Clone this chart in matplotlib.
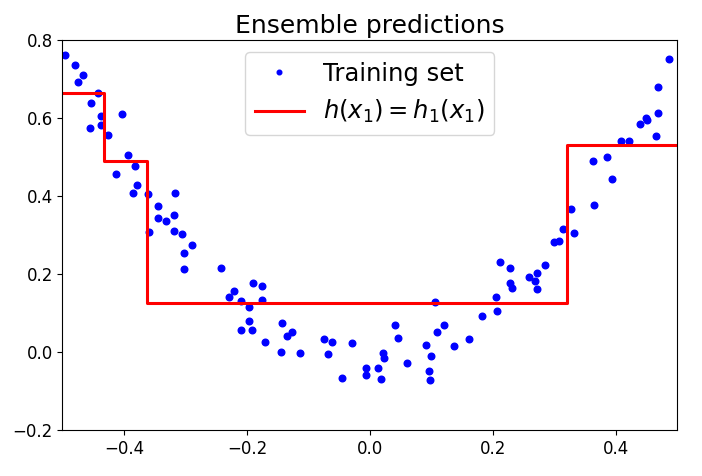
import numpy as np
import matplotlib
matplotlib.use('Agg')
import matplotlib.pyplot as plt

# training set
x_train = [-0.496, -0.480, -0.467, -0.474, -0.443, -0.454, -0.404, -0.438, -0.456, -0.437,
           -0.426, -0.393, -0.382, -0.413, -0.379, -0.386, -0.361, -0.317, -0.345, -0.345,
           -0.331, -0.318, -0.360, -0.319, -0.305, -0.289, -0.302, -0.302, -0.242, -0.190,
           -0.176, -0.221, -0.230, -0.210, -0.176, -0.197, -0.197, -0.210, -0.191, -0.143,
           -0.127, -0.135, -0.170, -0.145, -0.113, 0.106, 0.041, 0.046, 0.109, -0.074,
           -0.061, -0.030, -0.069, 0.021, 0.023, 0.091, 0.099, 0.060, -0.007, 0.013,
           -0.007, 0.096, -0.046, 0.018, 0.097, 0.121, 0.161, 0.136, 0.182, 0.205,
           0.207, 0.212, 0.228, 0.227, 0.231, 0.259, 0.272, 0.268, 0.271, 0.284,
           0.300, 0.307, 0.314, 0.331, 0.327, 0.364, 0.393, 0.362, 0.386, 0.408,
           0.421, 0.465, 0.439, 0.449, 0.450, 0.468, 0.468, 0.486]
y_train = [0.761, 0.736, 0.709, 0.691, 0.663, 0.638, 0.609, 0.604, 0.575, 0.581,
           0.556, 0.504, 0.477, 0.457, 0.429, 0.408, 0.404, 0.408, 0.374, 0.344,
           0.335, 0.351, 0.308, 0.309, 0.302, 0.274, 0.253, 0.212, 0.215, 0.176,
           0.170, 0.156, 0.140, 0.132, 0.133, 0.116, 0.080, 0.057, 0.057, 0.074,
           0.052, 0.040, 0.026, -0.001, -0.003, 0.128, 0.070, 0.035, 0.052, 0.033,
           0.026, 0.022, -0.006, -0.002, -0.016, 0.017, -0.011, -0.027, -0.042, -0.041,
           -0.059, -0.049, -0.066, -0.070, -0.072, 0.068, 0.034, 0.015, 0.092, 0.140,
           0.105, 0.231, 0.215, 0.176, 0.165, 0.192, 0.202, 0.182, 0.161, 0.224,
           0.283, 0.285, 0.315, 0.305, 0.366, 0.377, 0.444, 0.490, 0.499, 0.542,
           0.540, 0.555, 0.585, 0.601, 0.594, 0.613, 0.679, 0.752]

# tree prediction: split points and leaf values
splits = [-0.4325, -0.3626, 0.32]
leaf_values = [0.664, 0.49, 0.1256, 0.531]
axes_range = [-0.5, 0.5, -0.2, 0.8]

fig = plt.figure(figsize=(7.02, 4.76), dpi=100)
ax = fig.add_axes([0.089, 0.0966, 0.876, 0.8194])

ax.plot(x_train, y_train, "b.", markersize=9.5, label="Training set")
edges = [axes_range[0]] + splits + [axes_range[1]]
ax.step(edges, leaf_values + [leaf_values[-1]], where='post', color='r', lw=2.2,
        label="$h(x_1) = h_1(x_1)$")

ax.axis(axes_range)
ax.set_xticks([-0.4, -0.2, 0.0, 0.2, 0.4])
ax.set_yticks([-0.2, 0.0, 0.2, 0.4, 0.6, 0.8])
ax.tick_params(labelsize=12)
ax.legend(loc="upper center", fontsize=17.5, markerscale=0.7)
ax.set_title("Ensemble predictions", fontsize=18, pad=5)

fig.savefig('out.png', dpi=100)
